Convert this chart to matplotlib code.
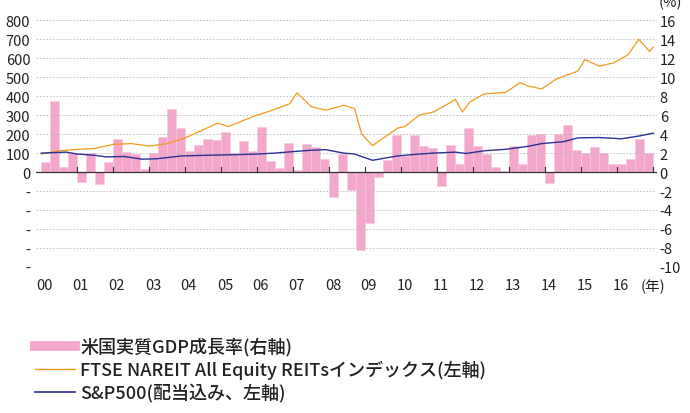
import numpy as np
import matplotlib.pyplot as plt

plt.rcParams['font.family'] = ['Noto Sans CJK JP', 'DejaVu Sans']

# quarterly US real GDP growth (%), 2000Q1..2016Q4
gdp = [1.1, 7.5, 0.5, 2.0, -1.1, 2.0, -1.3, 1.1, 3.5, 2.1, 1.9, 0.3,
       2.0, 3.7, 6.7, 4.6, 2.2, 2.9, 3.5, 3.4, 4.2, 2.0, 3.3, 2.2,
       4.7, 1.2, 0.4, 3.1, 0.2, 3.0, 2.6, 1.4, -2.6, 1.9, -1.9, -8.2,
       -5.4, -0.5, 1.3, 3.9, 1.7, 3.9, 2.7, 2.5, -1.5, 2.9, 0.8, 4.6,
       2.7, 1.9, 0.5, 0.1, 2.8, 0.8, 3.9, 4.0, -1.2, 4.0, 5.0, 2.3,
       2.0, 2.6, 2.0, 0.9, 0.8, 1.4, 3.5, 2.0]
gdp_x = 2000 + np.arange(len(gdp)) / 4

# FTSE NAREIT All Equity REITs index (start = 100)
reit_x = [2000.0, 2000.5, 2001.0, 2001.5, 2002.0, 2002.5, 2003.0, 2003.5, 2004.0, 2004.3,
          2004.9, 2005.2, 2005.9, 2006.3, 2006.9, 2007.1, 2007.5, 2007.9, 2008.4, 2008.7,
          2008.9, 2009.0, 2009.2, 2009.9, 2010.1, 2010.5, 2010.9, 2011.3, 2011.5, 2011.7,
          2011.9, 2012.3, 2012.9, 2013.3, 2013.5, 2013.9, 2014.3, 2014.9, 2015.1, 2015.5,
          2015.9, 2016.3, 2016.6, 2016.9, 2017.0]
reit_y = [95, 112, 120, 125, 146, 150, 137, 150, 180, 206,
          258, 240, 294, 318, 360, 418, 345, 326, 352, 335,
          200, 180, 139, 232, 240, 300, 317, 360, 383, 317,
          369, 412, 420, 472, 455, 438, 490, 532, 593, 558,
          576, 619, 700, 636, 660]

# S&P500 with dividends (start = 100)
sp_x = [2000.0, 2000.7, 2001.0, 2001.5, 2001.8, 2002.3, 2002.8, 2003.2, 2003.9, 2004.5,
        2005.0, 2005.5, 2006.0, 2006.5, 2007.0, 2007.5, 2007.9, 2008.4, 2008.7, 2009.2,
        2009.9, 2010.5, 2010.9, 2011.5, 2011.8, 2012.3, 2012.9, 2013.5, 2013.9, 2014.5,
        2014.9, 2015.5, 2015.9, 2016.1, 2016.6, 2017.0]
sp_y = [100, 105, 95, 88, 80, 82, 68, 70, 85, 88,
        90, 92, 95, 100, 108, 115, 118, 100, 95, 62,
        85, 95, 100, 105, 98, 112, 120, 135, 150, 160,
        180, 182, 178, 175, 190, 205]

years = list(range(2000, 2017))

fig = plt.figure(figsize=(6.9, 4.14), dpi=100)
ax = fig.add_axes([0.052, 0.353, 0.90, 0.60])
ax2 = ax.twinx()

ax2.bar(gdp_x, gdp, width=0.25, align='edge', color='#f2a7cb', edgecolor='#f7c7dd', linewidth=0.4, zorder=1)
ax2.set_ylim(-10, 16.2)
ax.set_ylim(-500, 810)
ax.set_zorder(ax2.get_zorder() + 1)
ax.patch.set_visible(False)

ax.plot(reit_x, reit_y, color='#f39a1e', lw=0.9, zorder=3)
ax.plot(sp_x, sp_y, color='#2e3192', lw=1.0, zorder=3)
ax.axhline(0, color='#333333', lw=0.9, zorder=4)
for v in range(-500, 900, 100):
    if v != 0:
        ax.axhline(v, color='#bbbbbb', lw=0.6, ls=(0, (2, 2)), zorder=0)

ax.set_xlim(1999.85, 2017.1)
ax.set_xticks([])
for y in years[1:] + [2017]:
    ax.plot([y, y], [0, 25], color='#333333', lw=0.8, zorder=4)
for y in years:
    ax.text(y + 0.1, -560, f"{y % 100:02d}", ha='center', va='top', fontsize=10.5, color='#222222')
ax.text(2016.65, -560, "(年)", ha='left', va='top', fontsize=10.5, color='#222222')

ax.set_yticks(range(-500, 900, 100))
ax.set_yticklabels([str(v) if v >= 0 else '-' for v in range(-500, 900, 100)], fontsize=10.5)
ax2.set_yticks(range(-10, 17, 2))
ax2.set_yticklabels([str(v) for v in range(-10, 17, 2)], fontsize=10.5)
for a in (ax, ax2):
    for s in a.spines.values():
        s.set_visible(False)
    a.tick_params(length=0, pad=2, colors='#222222')
ax.tick_params(axis='y', pad=4)
fig.text(0.955, 0.975, "(%)", ha='left', va='bottom', fontsize=10.5, color='#222222')

# legend
items = [("米国実質GDP成長率(右軸)", '#f2a7cb', 7),
         ("FTSE NAREIT All Equity REITsインデックス(左軸)", '#f39a1e', 1),
         ("S&P500(配当込み、左軸)", '#2e3192', 1.2)]
for i, (lab, c, w) in enumerate(items):
    yy = 0.162 - i * 0.056
    fig.add_artist(plt.Line2D([0.051, 0.109], [yy, yy], color=c, lw=w, transform=fig.transFigure))
    fig.text(0.116, yy, lab, ha='left', va='center', fontsize=13, color='#222222', weight='medium')

fig.savefig("out.png", dpi=100)
